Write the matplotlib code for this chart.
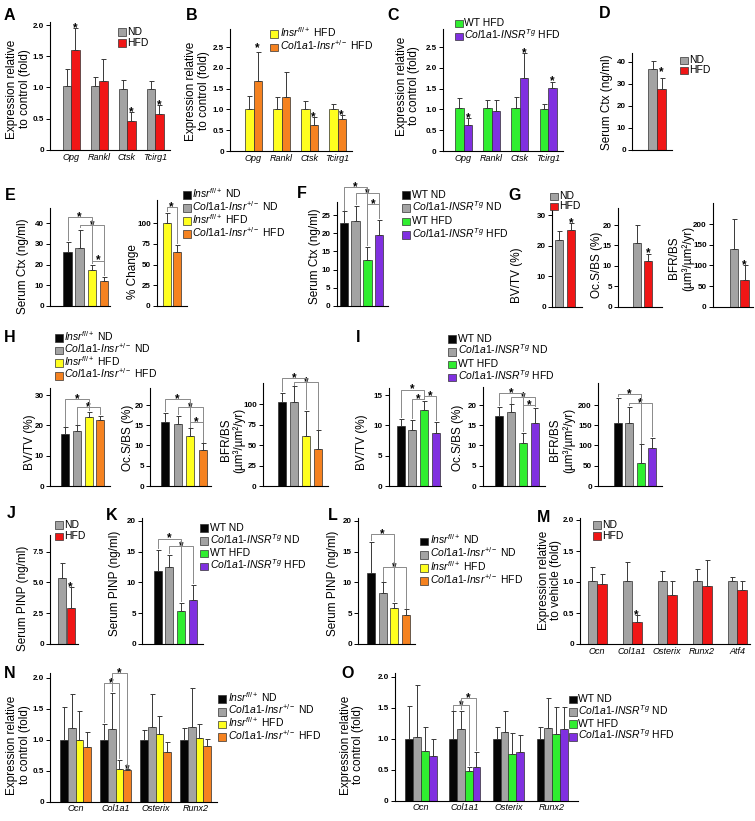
import matplotlib.pyplot as plt
from matplotlib.patches import Rectangle

plt.rcParams['font.family'] = ['Liberation Sans', 'DejaVu Sans']
plt.rcParams['mathtext.fontset'] = 'custom'
plt.rcParams['mathtext.rm'] = 'Liberation Sans'
plt.rcParams['mathtext.it'] = 'Liberation Sans:italic'
plt.rcParams['mathtext.bf'] = 'Liberation Sans:bold'

# ---------------- data ----------------
genes_oc = ['Opg', 'Rankl', 'Ctsk', 'Tcirg1']
genes_ob = ['Ocn', 'Col1a1', 'Osterix', 'Runx2']
genes_m = ['Ocn', 'Col1a1', 'Osterix', 'Runx2', 'Atf4']

a_nd = [1.02, 1.02, 0.98, 0.98]
a_nd_sd = [0.28, 0.15, 0.14, 0.13]
a_hfd = [1.60, 1.10, 0.46, 0.58]
a_hfd_sd = [0.35, 0.36, 0.14, 0.14]

b_fl = [1.0, 1.0, 1.0, 1.0]
b_fl_sd = [0.33, 0.30, 0.21, 0.14]
b_het = [1.69, 1.31, 0.62, 0.78]
b_het_sd = [0.68, 0.58, 0.19, 0.09]

c_wt = [1.03, 1.03, 1.03, 1.02]
c_wt_sd = [0.25, 0.19, 0.28, 0.12]
c_tg = [0.63, 0.95, 1.75, 1.51]
c_tg_sd = [0.16, 0.27, 0.60, 0.16]

d_ctx = [36.8, 27.6]
d_ctx_sd = [3.3, 5.0]

e_ctx = [26.0, 28.0, 17.5, 12.0]
e_ctx_sd = [5.0, 9.0, 2.5, 2.0]
e_pct = [100, 65]
e_pct_sd = [13, 9]

f_ctx = [22.7, 23.4, 12.7, 19.6]
f_ctx_sd = [3.3, 4.1, 3.5, 4.0]

g_bvtv = [21.7, 25.0]
g_bvtv_sd = [3.0, 2.5]
g_ocs = [15.5, 11.2]
g_ocs_sd = [4.6, 1.8]
g_bfr = [139, 65]
g_bfr_sd = [75, 36]

h_bvtv = [17.0, 18.0, 22.6, 21.8]
h_bvtv_sd = [2.3, 2.0, 1.8, 1.4]
h_ocs = [15.9, 15.4, 12.4, 8.9]
h_ocs_sd = [2.2, 2.0, 1.8, 1.6]
h_bfr = [103, 103, 61, 45]
h_bfr_sd = [11, 19, 31, 23]

i_bvtv = [9.9, 9.3, 12.5, 8.8]
i_bvtv_sd = [1.2, 1.6, 1.5, 1.8]
i_ocs = [17.2, 18.3, 10.6, 15.6]
i_ocs_sd = [2.3, 1.9, 2.5, 3.7]
i_bfr = [155, 155, 57, 93]
i_bfr_sd = [63, 40, 46, 26]

j_pinp = [5.35, 2.95]
j_pinp_sd = [1.25, 1.65]
k_pinp = [11.8, 12.5, 5.4, 7.2]
k_pinp_sd = [3.5, 1.9, 1.2, 2.4]
l_pinp = [11.5, 8.2, 5.9, 4.7]
l_pinp_sd = [5.1, 1.8, 0.8, 0.9]

m_nd = [1.01, 1.01, 1.02, 1.01, 1.02]
m_nd_sd = [0.24, 0.32, 0.16, 0.20, 0.06]
m_hfd = [0.97, 0.35, 0.79, 0.93, 0.87]
m_hfd_sd = [0.16, 0.11, 0.23, 0.43, 0.15]

n_fl_nd = [1.0, 1.0, 1.0, 0.99]
n_fl_nd_sd = [0.52, 0.25, 0.15, 0.20]
n_het_nd = [1.19, 1.17, 1.21, 1.21]
n_het_nd_sd = [0.55, 0.59, 0.53, 0.62]
n_fl_hfd = [1.0, 0.53, 1.09, 1.03]
n_fl_hfd_sd = [0.47, 0.14, 0.29, 0.22]
n_het_hfd = [0.88, 0.51, 0.80, 0.90]
n_het_hfd_sd = [0.24, 0.01, 0.16, 0.11]

o_wt_nd = [1.0, 1.0, 1.0, 1.0]
o_wt_nd_sd = [0.52, 0.44, 0.19, 0.19]
o_tg_nd = [1.03, 1.15, 1.11, 1.18]
o_tg_nd_sd = [0.84, 0.30, 0.33, 0.47]
o_wt_hfd = [0.80, 0.48, 0.76, 1.08]
o_wt_hfd_sd = [0.39, 0.07, 0.34, 0.43]
o_tg_hfd = [0.72, 0.55, 0.79, 1.16]
o_tg_hfd_sd = [0.28, 0.23, 0.27, 0.35]

# ---------------- style ----------------
GRAY = '#a3a3a3'
RED = '#f01616'
YEL = '#ffff1e'
ORA = '#f58220'
GRN = '#30ee30'
PUR = '#8030e0'
BLK = '#050505'

FL = r'$\mathit{Insr}^{\mathit{fl/+}}$'
HET = r'$\mathit{Col1a1}$-$\mathit{Insr}^{+/-}$'
TG = r'$\mathit{Col1a1}$-$\mathit{INSR}^{\mathit{Tg}}$'

lab_ins = [FL + ' ND', HET + ' ND', FL + ' HFD', HET + ' HFD']
lab_tg = ['WT ND', TG + ' ND', 'WT HFD', TG + ' HFD']
col_ins = [BLK, GRAY, YEL, ORA]
col_tg = [BLK, GRAY, GRN, PUR]

W, H = 755, 821
fig = plt.figure(figsize=(7.55, 8.21), dpi=100)


def panel(left, right, top, base, tv, tp, ticks, labels, c0, sp):
    ax = fig.add_axes([left / W, 1 - base / H, (right - left) / W, (base - top) / H])
    per = (base - tp) / tv
    ax.set_ylim(0, (base - top) / per)
    ax.set_xlim((left - c0) / sp, (right - c0) / sp)
    ax.set_yticks(ticks)
    ax.set_yticklabels(labels, fontsize=5.8, fontweight='bold')
    ax.tick_params(axis='y', length=3, width=0.7, pad=1.5)
    ax.tick_params(axis='x', length=0, pad=2)
    ax.set_xticks([])
    for s in ['top', 'right']:
        ax.spines[s].set_visible(False)
    for s in ['left', 'bottom']:
        ax.spines[s].set_linewidth(0.8)
    ax.patch.set_alpha(0)
    return ax


def bars(ax, x, vals, sd, colors, width):
    ax.bar(x, vals, width=width, color=colors, edgecolor='#303030', linewidth=0.5, zorder=2)
    ax.errorbar(x, vals, yerr=[[0] * len(vals), sd], fmt='none', ecolor='#383838',
                elinewidth=0.7, capsize=1.8, capthick=0.7, zorder=3)


def star(ax, x, y):
    ax.annotate('*', (x, y), xytext=(0, -2.2), textcoords='offset points', ha='center',
                va='baseline', fontsize=8.5, fontweight='bold', annotation_clip=False)


def bracket(ax, x1, x2, y, y1, y2):
    ax.plot([x1, x1, x2, x2], [y1, y, y, y2], color='#8a8a8a', lw=0.7, clip_on=False, zorder=4)
    star(ax, (x1 + x2) / 2, y)


def cats(ax, pos, names, fs=6.5):
    ax.set_xticks(pos)
    ax.set_xticklabels(names, fontsize=fs, style='italic')


def tops(vals, sd):
    return [v + s for v, s in zip(vals, sd)]


# ---------- A ----------
ax = panel(50, 170, 22, 150, 2.0, 25, [0, 0.5, 1, 1.5, 2], ['0', '0.5', '1.0', '1.5', '2.0'], 71, 28)
w = 8.5 / 28
x = list(range(4))
bars(ax, [i - w / 2 for i in x], a_nd, a_nd_sd, GRAY, w)
bars(ax, [i + w / 2 for i in x], a_hfd, a_hfd_sd, RED, w)
for i in [0, 2, 3]:
    star(ax, i + w / 2, a_hfd[i] + a_hfd_sd[i])
cats(ax, x, genes_oc)

# ---------- B ----------
ax = panel(230, 352, 29, 151, 2.5, 47, [0, 0.5, 1, 1.5, 2, 2.5], ['0', '0.5', '1.0', '1.5', '2.0', '2.5'], 253.5, 28)
bars(ax, [i - w / 2 for i in x], b_fl, b_fl_sd, YEL, w)
bars(ax, [i + w / 2 for i in x], b_het, b_het_sd, ORA, w)
for i in [0, 2, 3]:
    star(ax, i + w / 2, b_het[i] + b_het_sd[i] + (0.1 if i == 0 else 0))
cats(ax, x, genes_oc)

# ---------- C ----------
ax = panel(443, 563, 29, 151, 2.5, 47, [0, 0.5, 1, 1.5, 2, 2.5], ['0', '0.5', '1.0', '1.5', '2.0', '2.5'], 463.5, 28.2)
bars(ax, [i - w / 2 for i in x], c_wt, c_wt_sd, GRN, w)
bars(ax, [i + w / 2 for i in x], c_tg, c_tg_sd, PUR, w)
for i in [0, 2, 3]:
    star(ax, i + w / 2, c_tg[i] + c_tg_sd[i])
cats(ax, x, genes_oc)

# ---------- D ----------
ax = panel(632, 672, 53, 150, 40, 61.7, [0, 10, 20, 30, 40], ['0', '10', '20', '30', '40'], 657, 28)
wd = 9 / 28
bars(ax, [-wd / 2, wd / 2], d_ctx, d_ctx_sd, [GRAY, RED], wd)
star(ax, wd / 2, d_ctx[1] + d_ctx_sd[1] + 2.5)

# ---------- E ----------
ax = panel(50, 110, 208, 306, 40, 223.3, [0, 10, 20, 30, 40], ['0', '10', '20', '30', '40'], 67.5, 12.2)
bars(ax, x, e_ctx, e_ctx_sd, col_ins, 8.5 / 12.2)
t = tops(e_ctx, e_ctx_sd)
bracket(ax, 0, 2, 43, t[0] + 1, t[2] + 1)
bracket(ax, 1, 3, 39, t[1] + 1, t[3] + 1)
bracket(ax, 2, 3, 22, t[2] + 1, t[3] + 1)

ax = panel(157, 187, 200, 306, 100, 223.3, [0, 25, 50, 75, 100], ['0', '25', '50', '75', '100'], 166.5, 10.5)
bars(ax, [0, 1], e_pct, e_pct_sd, [YEL, ORA], 8 / 10.5)
t = tops(e_pct, e_pct_sd)
bracket(ax, 0, 1, 120, t[0] + 2, t[1] + 2)

# ---------- F ----------
ax = panel(337, 388, 202, 306, 25, 215, [0, 5, 10, 15, 20, 25], ['0', '5', '10', '15', '20', '25'], 344, 11.7)
bars(ax, x, f_ctx, f_ctx_sd, col_tg, 8.5 / 11.7)
t = tops(f_ctx, f_ctx_sd)
bracket(ax, 0, 2, 32.8, t[0] + 0.5, t[2] + 0.5)
bracket(ax, 1, 3, 31.0, t[1] + 0.5, t[3] + 0.5)
bracket(ax, 2, 3, 28.0, t[2] + 0.5, t[3] + 0.5)

# ---------- G ----------
ax = panel(552, 582, 208, 306.7, 30, 215, [0, 10, 20, 30], ['0', '10', '20', '30'], 559, 12)
bars(ax, [0, 1], g_bvtv, g_bvtv_sd, [GRAY, RED], 8 / 12)
star(ax, 1, g_bvtv[1] + g_bvtv_sd[1])
ax = panel(618, 662, 208, 306.7, 20, 225, [0, 5, 10, 15, 20], ['0', '5', '10', '15', '20'], 637, 11)
bars(ax, [0, 1], g_ocs, g_ocs_sd, [GRAY, RED], 8 / 11)
star(ax, 1, g_ocs[1] + g_ocs_sd[1])
ax = panel(713, 753, 203, 306.7, 200, 224.3, [0, 50, 100, 150, 200], ['0', '50', '100', '150', '200'], 734, 10.5)
bars(ax, [0, 1], g_bfr, g_bfr_sd, [GRAY, RED], 8.5 / 10.5)
star(ax, 1, g_bfr[1] + g_bfr_sd[1])

# ---------- H ----------
ax = panel(50, 110, 388, 486, 30, 395, [0, 10, 20, 30], ['0', '10', '20', '30'], 65, 11.8)
bars(ax, x, h_bvtv, h_bvtv_sd, col_ins, 8 / 11.8)
t = tops(h_bvtv, h_bvtv_sd)
bracket(ax, 0, 2, 28.6, t[0] + 0.5, t[2] + 0.5)
bracket(ax, 1, 3, 26.1, t[1] + 0.5, t[3] + 0.5)

ax = panel(150, 211, 388, 486, 20, 405, [0, 5, 10, 15, 20], ['0', '5', '10', '15', '20'], 165, 12.5)
bars(ax, x, h_ocs, h_ocs_sd, col_ins, 8 / 12.5)
t = tops(h_ocs, h_ocs_sd)
bracket(ax, 0, 2, 21.4, t[0] + 0.4, t[2] + 0.4)
bracket(ax, 1, 3, 19.6, t[1] + 0.4, t[3] + 0.4)
bracket(ax, 2, 3, 15.9, t[2] + 0.4, t[3] + 0.4)

ax = panel(263, 328, 383, 486, 100, 404.3, [0, 25, 50, 75, 100], ['0', '25', '50', '75', '100'], 282, 12)
bars(ax, x, h_bfr, h_bfr_sd, col_ins, 8 / 12)
t = tops(h_bfr, h_bfr_sd)
bracket(ax, 0, 2, 132, t[0] + 2, t[2] + 2)
bracket(ax, 1, 3, 127, t[1] + 2, t[3] + 2)

# ---------- I ----------
ax = panel(389, 441, 388, 486, 15, 395, [0, 5, 10, 15], ['0', '5', '10', '15'], 400.5, 11.8)
bars(ax, x, i_bvtv, i_bvtv_sd, col_tg, 8 / 11.8)
t = tops(i_bvtv, i_bvtv_sd)
bracket(ax, 0, 2, 15.9, t[0] + 0.3, t[2] + 0.3)
bracket(ax, 1, 2, 14.4, t[1] + 0.3, t[2] + 0.3)
bracket(ax, 2, 3, 14.8, t[2] + 0.3, t[3] + 0.3)

ax = panel(483, 545, 387, 486, 20, 405, [0, 5, 10, 15, 20], ['0', '5', '10', '15', '20'], 499, 12)
bars(ax, x, i_ocs, i_ocs_sd, col_tg, 8 / 12)
t = tops(i_ocs, i_ocs_sd)
bracket(ax, 0, 2, 23.0, t[0] + 0.4, t[2] + 0.4)
bracket(ax, 1, 3, 22.0, t[1] + 0.4, t[3] + 0.4)
bracket(ax, 2, 3, 20.0, t[2] + 0.4, t[3] + 0.4)

ax = panel(598, 662, 383, 486, 200, 405, [0, 50, 100, 150, 200], ['0', '50', '100', '150', '200'], 617.5, 11.5)
bars(ax, x, i_bfr, i_bfr_sd, col_tg, 8 / 11.5)
t = tops(i_bfr, i_bfr_sd)
bracket(ax, 0, 2, 227, t[0] + 4, t[2] + 4)
bracket(ax, 1, 3, 205, t[1] + 4, t[3] + 4)

# ---------- J ----------
ax = panel(50, 78, 535, 644, 7.5, 551.7, [0, 2.5, 5, 7.5], ['0', '2.5', '5.0', '7.5'], 62, 8.5)
bars(ax, [0, 1], j_pinp, j_pinp_sd, [GRAY, RED], 8 / 8.5)
star(ax, 1, j_pinp[1] + j_pinp_sd[1])

# ---------- K ----------
ax = panel(142, 203, 518, 644, 20, 520.7, [0, 5, 10, 15, 20], ['0', '5', '10', '15', '20'], 157.5, 11.9)
bars(ax, x, k_pinp, k_pinp_sd, col_tg, 8 / 11.9)
t = tops(k_pinp, k_pinp_sd)
bracket(ax, 0, 2, 17.1, t[0] + 0.3, t[2] + 0.3)
bracket(ax, 1, 3, 15.9, t[1] + 0.3, t[3] + 0.3)

# ---------- L ----------
ax = panel(358, 415, 518, 644, 20, 520.7, [0, 5, 10, 15, 20], ['0', '5', '10', '15', '20'], 371, 11.7)
bars(ax, x, l_pinp, l_pinp_sd, col_ins, 8 / 11.7)
t = tops(l_pinp, l_pinp_sd)
bracket(ax, 0, 2, 17.9, t[0] + 0.3, t[2] + 0.3)
bracket(ax, 1, 3, 12.5, t[1] + 0.3, t[3] + 0.3)

# ---------- M ----------
ax = panel(580, 750, 518, 644, 2.0, 520, [0, 0.5, 1, 1.5, 2], ['0', '0.5', '1.0', '1.5', '2.0'], 597, 35)
wm = 9.5 / 35
xm = list(range(5))
bars(ax, [i - wm / 2 for i in xm], m_nd, m_nd_sd, GRAY, wm)
bars(ax, [i + wm / 2 for i in xm], m_hfd, m_hfd_sd, RED, wm)
star(ax, 1 + wm / 2, m_hfd[1] + m_hfd_sd[1])
cats(ax, xm, genes_m)

# ---------- N ----------
ax = panel(50, 217, 673, 801.7, 2.0, 677.7, [0, 0.5, 1, 1.5, 2], ['0', '0.5', '1.0', '1.5', '2.0'], 75.5, 40)
wn = 7.7 / 40
off = [(k - 1.5) * wn for k in range(4)]
for k, (v, s) in enumerate([(n_fl_nd, n_fl_nd_sd), (n_het_nd, n_het_nd_sd),
                            (n_fl_hfd, n_fl_hfd_sd), (n_het_hfd, n_het_hfd_sd)]):
    bars(ax, [i + off[k] for i in x], v, s, col_ins[k], wn)
bracket(ax, 1 + off[0], 1 + off[2], 1.91, n_fl_nd[1] + n_fl_nd_sd[1] + 0.03,
        n_fl_hfd[1] + n_fl_hfd_sd[1] + 0.03)
bracket(ax, 1 + off[1], 1 + off[3], 2.07, n_het_nd[1] + n_het_nd_sd[1] + 0.03,
        n_het_hfd[1] + n_het_hfd_sd[1] + 0.03)
star(ax, 1 + off[3], n_het_hfd[1] + n_het_hfd_sd[1])
cats(ax, x, genes_ob)

# ---------- O ----------
ax = panel(395, 578, 673, 800.7, 2.0, 676.7, [0, 0.5, 1, 1.5, 2], ['0', '0.5', '1.0', '1.5', '2.0'], 421, 43.7)
wo = 7.8 / 43.7
off = [(k - 1.5) * wo for k in range(4)]
for k, (v, s) in enumerate([(o_wt_nd, o_wt_nd_sd), (o_tg_nd, o_tg_nd_sd),
                            (o_wt_hfd, o_wt_hfd_sd), (o_tg_hfd, o_tg_hfd_sd)]):
    bars(ax, [i + off[k] for i in x], v, s, col_tg[k], wo)
bracket(ax, 1 + off[0], 1 + off[2], 1.54, o_wt_nd[1] + o_wt_nd_sd[1] + 0.03,
        o_wt_hfd[1] + o_wt_hfd_sd[1] + 0.03)
bracket(ax, 1 + off[1], 1 + off[3], 1.65, o_tg_nd[1] + o_tg_nd_sd[1] + 0.03,
        o_tg_hfd[1] + o_tg_hfd_sd[1] + 0.03)
cats(ax, x, genes_ob)

# ---------------- overlay: letters, labels, legends ----------------
ov = fig.add_axes([0, 0, 1, 1], zorder=10)
ov.set_xlim(0, W)
ov.set_ylim(H, 0)
ov.axis('off')

letters = {'A': (9.5, 15.5), 'B': (192, 15), 'C': (393, 15), 'D': (605, 14), 'E': (10, 195),
           'F': (302, 194), 'G': (515, 195), 'H': (10, 338), 'I': (358, 338), 'J': (11, 513),
           'K': (112, 515), 'L': (333, 515), 'M': (543.5, 517), 'N': (10, 673), 'O': (348, 673)}
for k, (lx, ly) in letters.items():
    ov.text(lx, ly, k, ha='center', va='center', fontsize=11.5, fontweight='bold')

EXP = 'Expression relative\nto control (fold)'
CTX = 'Serum Ctx (ng/ml)'
PINP = 'Serum PINP (ng/ml)'
BFR = 'BFR/BS\n(\u00b5m\u00b3/\u00b5m\u00b2/yr)'
ylabels = [(18.5, 89, EXP), (197.5, 91, EXP), (408, 86, EXP), (607, 102, CTX),
           (23, 266, CTX), (133, 272, '% Change'), (315, 256, CTX),
           (517, 275, 'BV/TV (%)'), (597, 265, 'Oc.S/BS (%)'), (681, 258, BFR),
           (30, 442, 'BV/TV (%)'), (128, 438, 'Oc.S/BS (%)'), (232.5, 440, BFR),
           (362, 442, 'BV/TV (%)'), (458, 438, 'Oc.S/BS (%)'), (562, 440, BFR),
           (23, 598, PINP), (115, 583, PINP), (333, 583, PINP),
           (550, 580, 'Expression relative\nto vehicle (fold)'),
           (18.5, 745, EXP), (352, 745, EXP)]
for lx, ly, s in ylabels:
    ov.text(lx, ly, s, rotation=90, ha='center', va='center', fontsize=8.5, linespacing=1.1)


def legend(lx, ly, dy, labels, colors, fs=7.5):
    for i, (lab, c) in enumerate(zip(labels, colors)):
        yy = ly + i * dy
        ov.add_patch(Rectangle((lx, yy - 3.8), 7.6, 7.6, fc=c, ec='#333333', lw=0.5))
        ov.text(lx + 9.5, yy + 2.7, lab, va='baseline', ha='left', fontsize=fs)


legend(118, 32.3, 11, ['ND', 'HFD'], [GRAY, RED])
legend(270, 34, 13.5, [FL + ' HFD', HET + ' HFD'], [YEL, ORA])
legend(455, 23.5, 13, ['WT HFD', TG + ' HFD'], [GRN, PUR])
legend(680, 60.7, 10, ['ND', 'HFD'], [GRAY, RED])
legend(183, 195, 13, lab_ins, col_ins)
legend(402, 195, 13.3, lab_tg, col_tg)
legend(550, 196.7, 10, ['ND', 'HFD'], [GRAY, RED])
legend(55, 338, 12.6, lab_ins, col_ins)
legend(448, 339, 12.8, lab_tg, col_tg)
legend(55, 525, 11.5, ['ND', 'HFD'], [GRAY, RED])
legend(200, 528, 12.8, lab_tg, col_tg)
legend(420, 541.5, 13.2, lab_ins, col_ins)
legend(593, 525, 11, ['ND', 'HFD'], [GRAY, RED])
legend(218, 699, 12.7, lab_ins, col_ins)
legend(569, 699.5, 12.4, lab_tg, col_tg)

fig.savefig('out.png', dpi=100)
